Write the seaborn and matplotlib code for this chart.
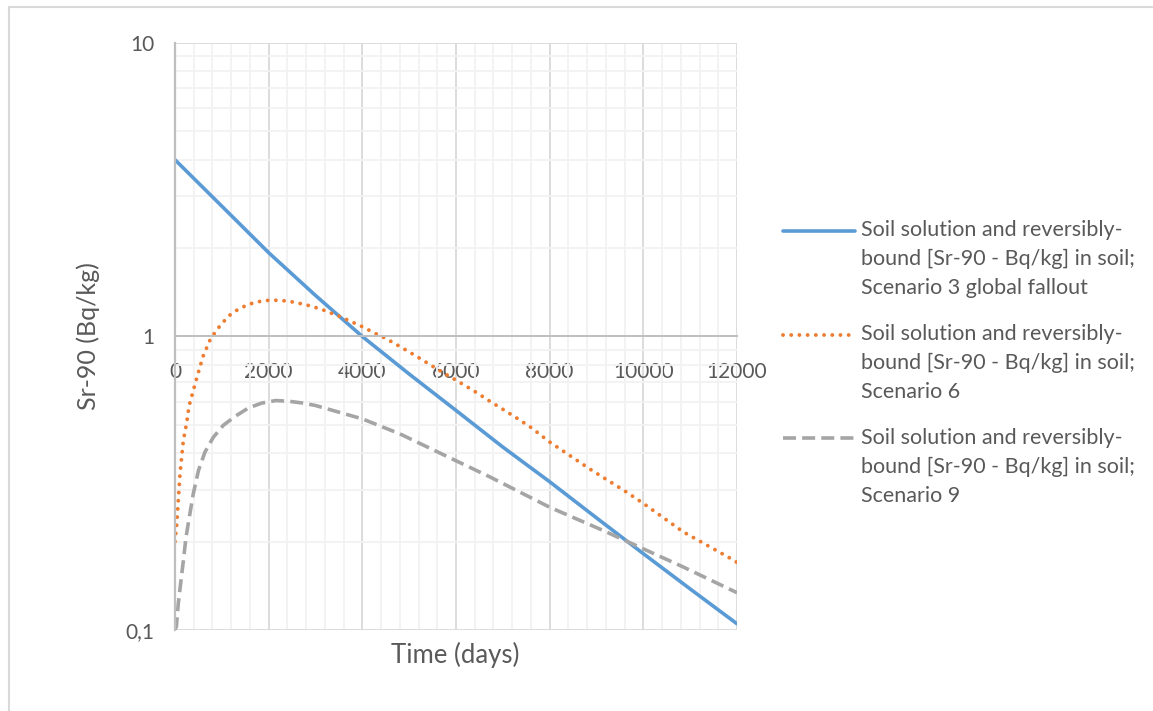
import numpy as np
import pandas as pd
import matplotlib
matplotlib.use("Agg")
import matplotlib.pyplot as plt
import seaborn as sns
from matplotlib.patches import Rectangle
from matplotlib.legend_handler import HandlerLine2D
from matplotlib.ticker import FixedLocator, FixedFormatter, NullFormatter

# Scenario 3 global fallout
days_s3 = [0, 1000, 2000, 3000, 4000, 5000, 6000, 7000, 8000, 9000, 10000, 11000, 12000]
sr90_s3 = [4.0, 2.78, 1.93, 1.38, 1.0, 0.745, 0.56, 0.42, 0.32, 0.241, 0.182, 0.138, 0.105]

# Scenario 6
days_s6 = [0, 36, 71, 107, 142, 178, 250, 300, 400, 500, 600, 750, 850, 960, 1080,
           1200, 1370, 1530, 1700, 1890, 2060, 2240, 2430, 2600, 2780, 2960, 3140,
           3310, 3490, 3650, 3820, 4000, 4300, 4500, 4800, 5100, 5400, 5700, 6000,
           6400, 6700, 7000, 7300, 7600, 8000, 8900, 9600, 10000, 10850, 11900, 12000]
sr90_s6 = [0.2, 0.228, 0.278, 0.34, 0.388, 0.442, 0.509, 0.58, 0.663, 0.756, 0.857,
           0.975, 1.03, 1.087, 1.143, 1.195, 1.243, 1.278, 1.306, 1.324, 1.33, 1.327,
           1.319, 1.302, 1.285, 1.261, 1.236, 1.205, 1.176, 1.145, 1.113, 1.08, 1.02,
           0.985, 0.925, 0.867, 0.81, 0.757, 0.71, 0.65, 0.605, 0.565, 0.527, 0.49,
           0.437, 0.35, 0.298, 0.27, 0.216, 0.174, 0.17]

# Scenario 9
days_s9 = [0, 30, 70, 120, 180, 235, 305, 390, 500, 640, 820, 1030, 1280, 1570, 1850,
           2150, 2420, 2740, 3000, 4000, 4800, 5870, 6730, 8000, 9150, 10000, 10850, 12000]
sr90_s9 = [0.1, 0.103, 0.123, 0.144, 0.173, 0.207, 0.242, 0.291, 0.349, 0.404, 0.454,
           0.498, 0.534, 0.571, 0.593, 0.605, 0.602, 0.593, 0.582, 0.524, 0.466, 0.386,
           0.332, 0.262, 0.218, 0.189, 0.164, 0.134]

labels = [
    "Soil solution and reversibly-\nbound [Sr-90 - Bq/kg] in soil;\nScenario 3 global fallout",
    "Soil solution and reversibly-\nbound [Sr-90 - Bq/kg] in soil;\nScenario 6",
    "Soil solution and reversibly-\nbound [Sr-90 - Bq/kg] in soil;\nScenario 9",
]
x_ticks = [0, 2000, 4000, 6000, 8000, 10000, 12000]
y_ticks = [0.1, 1, 10]
y_tick_labels = ["0,1", "1", "10"]

colors = ["#5B9BD5", "#ED7D31", "#A5A5A5"]

sns.set_theme(style="white")
plt.rcParams["font.family"] = ["Lato", "DejaVu Sans"]
text_color = "#595959"

df = pd.concat([
    pd.DataFrame({"Time": days_s3, "Sr90": sr90_s3, "series": labels[0]}),
    pd.DataFrame({"Time": days_s6, "Sr90": sr90_s6, "series": labels[1]}),
    pd.DataFrame({"Time": days_s9, "Sr90": sr90_s9, "series": labels[2]}),
], ignore_index=True)

fig = plt.figure(figsize=(11.53, 7.11), dpi=100)
ax = fig.add_axes([175 / 1153, 1 - 630 / 711, (737 - 175) / 1153, (630 - 43) / 711])

for i, lab in enumerate(labels):
    sub = df[df["series"] == lab]
    sns.lineplot(data=sub, x="Time", y="Sr90", ax=ax, color=colors[i],
                 linewidth=2.6 if i != 1 else 2.8, label=lab, legend=False,
                 estimator=None, sort=False)
    line = ax.get_lines()[-1]
    if i == 1:
        line.set_dashes([0.01, 2.1])
        line.set_dash_capstyle("round")
    elif i == 2:
        line.set_dashes([3.6, 1.7])
        line.set_dash_capstyle("butt")

ax.set_yscale("log")
ax.set_xlim(0, 12000)
ax.set_ylim(0.1, 10)

# grid
ax.xaxis.set_major_locator(FixedLocator(x_ticks))
ax.xaxis.set_minor_locator(FixedLocator(np.arange(0, 12001, 400)))
ax.yaxis.set_major_locator(FixedLocator(y_ticks))
ax.yaxis.set_major_formatter(FixedFormatter(y_tick_labels))
ax.yaxis.set_minor_locator(FixedLocator([m * 10.0 ** e for e in (-1, 0) for m in range(2, 10)]))
ax.yaxis.set_minor_formatter(NullFormatter())
ax.grid(which="major", color="#D9D9D9", linewidth=1.3)
ax.grid(which="minor", color="#F2F2F2", linewidth=1.3)
ax.set_axisbelow(True)

for s in ("top", "right"):
    ax.spines[s].set_visible(False)
ax.spines["left"].set_color("#BFBFBF")
ax.spines["left"].set_linewidth(1.6)
ax.spines["bottom"].set_position(("data", 1))
ax.spines["bottom"].set_color("#BFBFBF")
ax.spines["bottom"].set_linewidth(1.4)

ax.tick_params(axis="x", which="both", length=0, pad=18.5, labelsize=15, labelcolor=text_color)
ax.tick_params(axis="y", which="major", length=5, width=1.4, color="#BFBFBF",
               pad=10, labelsize=15, labelcolor=text_color)
ax.tick_params(axis="y", which="minor", length=0)
ax.set_xticklabels([str(v) for v in x_ticks])

ax.set_xlabel("")
ax.set_ylabel("")
fig.text(455 / 1153, 1 - 655 / 711, "Time (days)", ha="center", va="center",
         fontsize=18.5, color=text_color)
fig.text(88 / 1153, 1 - 336 / 711, "Sr-90 (Bq/kg)", ha="center", va="center",
         rotation=90, fontsize=18, color=text_color)


class FirstLineHandler(HandlerLine2D):
    """Place the legend key level with the first line of a multi-line label."""

    def __init__(self, shift, **kw):
        super().__init__(**kw)
        self.shift = shift

    def create_artists(self, legend, orig_handle, xdescent, ydescent, width,
                       height, fontsize, trans):
        arts = super().create_artists(legend, orig_handle, xdescent, ydescent,
                                      width, height, fontsize, trans)
        for a in arts:
            a.set_ydata(np.asarray(a.get_ydata()) + self.shift)
        return arts


line_gap_pt = 29 * 72 / 100
handles = ax.get_lines()[:3]
leg = fig.legend(handles, labels, loc="upper left",
                 bbox_to_anchor=(783 / 1153, 1 - 220 / 711), frameon=False,
                 fontsize=15.5, handlelength=3.35, handletextpad=0.28,
                 labelspacing=1.18, borderpad=0, borderaxespad=0,
                 handler_map={h: FirstLineHandler(line_gap_pt) for h in handles})
for t in leg.get_texts():
    t.set_color(text_color)
    t.set_linespacing(1.57)

# chart area outline
fig.add_artist(Rectangle((8.5 / 1153, -0.05), 1.2, 1 - 6.5 / 711 + 0.05,
                         transform=fig.transFigure, fill=False,
                         edgecolor="#D9D9D9", linewidth=1.5))

fig.savefig("out.png", dpi=100)
